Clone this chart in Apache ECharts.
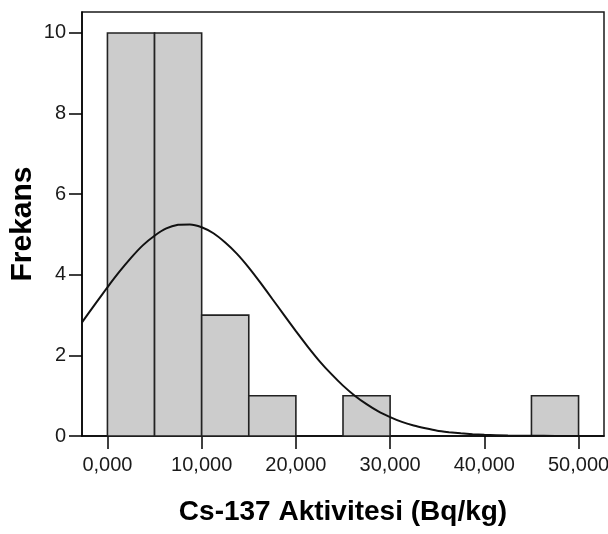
<!DOCTYPE html>
<html>
<head>
<meta charset="utf-8">
<title>Cs-137 Aktivitesi</title>
<script src="https://cdn.jsdelivr.net/npm/echarts@6/dist/echarts.min.js"></script>
<style>
  html, body { margin: 0; padding: 0; background: #fff; }
  #chart { width: 608px; height: 534px; }
</style>
</head>
<body>
<div id="chart"></div>
<script>
// Histogram bins (Bq/kg): lower edge of each bin, bin width, and frequency
const binStarts = [0, 5, 10, 15, 20, 25, 30, 35, 40, 45];
const binWidth = 5;
const counts = [10, 10, 3, 1, 0, 1, 0, 0, 0, 1];

// Normal curve overlay (x in Bq/kg, y in frequency units)
const curveX = [-2.7, -1.25, 0, 1.25, 2.5, 3.75, 5, 6.25, 7.5, 8.75, 10, 11.25, 12.5, 13.75, 15, 16.25,
  17.5, 18.75, 20, 21.25, 22.5, 23.75, 25, 26.25, 27.5, 28.75, 30, 31.25, 32.5, 33.75, 35, 36.25,
  37.5, 38.75, 40, 42.5, 45, 47.5, 50, 52.7];
const curveY = [2.82, 3.29, 3.69, 4.07, 4.42, 4.73, 4.97, 5.15, 5.24, 5.25, 5.18, 5.03, 4.80, 4.52, 4.18, 3.80,
  3.40, 3.00, 2.60, 2.22, 1.86, 1.54, 1.25, 1.00, 0.79, 0.61, 0.47, 0.35, 0.26, 0.19, 0.13, 0.095,
  0.066, 0.045, 0.03, 0.013, 0.005, 0.002, 0.001, 0];

// Axis ticks
const xTicks = [0, 10, 20, 30, 40, 50];
const xTickLabels = ['0,000', '10,000', '20,000', '30,000', '40,000', '50,000'];
const yTicks = [0, 2, 4, 6, 8, 10];
const yTickLabels = ['0', '2', '4', '6', '8', '10'];

const FONT = '"Liberation Sans", Arial, sans-serif';

const histData = binStarts.map((s, i) => [s, s + binWidth, counts[i]]);
const curveData = curveX.map((x, i) => [x, curveY[i]]);

const chart = echarts.init(document.getElementById('chart'), null, { renderer: 'canvas' });

chart.setOption({
  animation: false,
  backgroundColor: '#ffffff',
  grid: {
    left: 82, right: 4, top: 12, bottom: 98,
    containLabel: false,
    outerBoundsMode: 'none',
    show: true, borderColor: '#1a1a1a', borderWidth: 1.5,
    backgroundColor: 'transparent'
  },
  xAxis: {
    type: 'value',
    min: -2.7, max: 52.7,
    splitLine: { show: false },
    axisLine: { show: true, onZero: false, lineStyle: { color: '#000', width: 1.5 } },
    axisTick: {
      show: true, length: 13, inside: false,
      customValues: xTicks,
      lineStyle: { color: '#000', width: 1.5 }
    },
    axisLabel: {
      customValues: xTicks,
      margin: 19,
      fontFamily: FONT, fontSize: 20, color: '#1a1a1a',
      formatter: v => {
        const i = xTicks.indexOf(v);
        return i >= 0 ? xTickLabels[i] : '';
      }
    },
    name: 'Cs-137 Aktivitesi (Bq/kg)',
    nameLocation: 'middle',
    nameGap: 62,
    nameTextStyle: { fontFamily: FONT, fontSize: 28, fontWeight: 'bold', color: '#000' }
  },
  yAxis: {
    type: 'value',
    min: 0, max: 10.52,
    splitLine: { show: false },
    axisLine: { show: true, onZero: false, lineStyle: { color: '#000', width: 1.5 } },
    axisTick: {
      show: true, length: 13, inside: false,
      customValues: yTicks,
      lineStyle: { color: '#000', width: 1.5 }
    },
    axisLabel: {
      customValues: yTicks,
      margin: 16,
      fontFamily: FONT, fontSize: 20, color: '#1a1a1a',
      formatter: v => {
        const i = yTicks.indexOf(v);
        return i >= 0 ? yTickLabels[i] : '';
      }
    },
    name: 'Frekans',
    nameLocation: 'middle',
    nameRotate: 90,
    nameGap: 44,
    nameMoveOverlap: false,
    nameTextStyle: { fontFamily: FONT, fontSize: 30, fontWeight: 'bold', color: '#000' }
  },
  series: [
    {
      type: 'custom',
      name: 'Frekans',
      data: histData,
      encode: { x: [0, 1], y: 2 },
      renderItem: (params, api) => {
        const c = api.value(2);
        if (!c) return null;
        const p0 = api.coord([api.value(0), c]);
        const p1 = api.coord([api.value(1), 0]);
        return {
          type: 'rect',
          shape: { x: p0[0], y: p0[1], width: p1[0] - p0[0], height: p1[1] - p0[1] },
          style: { fill: '#cccccc', stroke: '#222222', lineWidth: 1.6 }
        };
      },
      z: 2
    },
    {
      type: 'line',
      data: curveData,
      smooth: 0.2,
      showSymbol: false,
      clip: true,
      lineStyle: { color: '#111', width: 2 },
      z: 3
    }
  ]
});
</script>
</body>
</html>
